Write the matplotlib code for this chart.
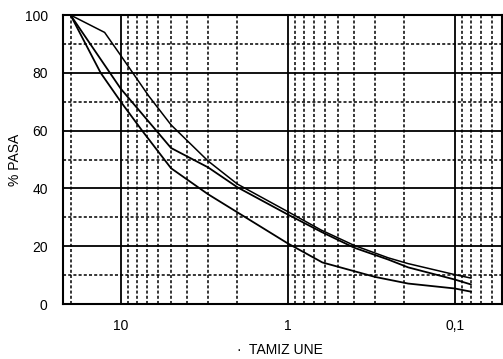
'''
curvas granulometricas
-----------------------------------------------------------
three grading curves, % passing vs UNE sieve size.
'''
# load packages -------------------------------------------
import matplotlib.pyplot as plt
from matplotlib.ticker import FixedLocator, NullFormatter

plt.rcParams['font.family'] = ['Liberation Sans', 'DejaVu Sans']

# data ----------------------------------------------------
# sieve sizes (mm) and % passing:
tamiz_a = [20, 12.5, 10, 6.8, 5, 3, 2, 1, 0.63, 0.4, 0.25, 0.19, 0.1, 0.08]
pasa_a = [100, 94, 86, 72, 62, 49.5, 41.5, 32, 25.6, 20.3, 16, 14, 10.2, 9]

tamiz_b = [20, 10, 5, 3, 2, 1, 0.63, 0.4, 0.25, 0.19, 0.1, 0.08]
pasa_b = [100, 74.5, 54, 47.3, 40.4, 31, 25, 19.5, 15.4, 12.7, 8.5, 6.8]

tamiz_c = [20, 13.2, 10, 7.45, 5, 3, 1, 0.62, 0.3, 0.19, 0.1, 0.08]
pasa_c = [100, 80, 70, 60, 47, 38, 21, 14.4, 9.4, 7.1, 5.4, 4.3]

x_ticks = [10, 1, 0.1]
x_labels = ['10', '1', '0,1']
y_ticks = [0, 20, 40, 60, 80, 100]

# plot data -----------------------------------------------
fig = plt.figure(figsize=(5.03, 3.59), dpi=100)
ax = fig.add_axes([0.1252, 0.153, 0.873, 0.805])

ax.set_xscale('log')
ax.set_xlim(22.2, 0.052)
ax.set_ylim(0, 100)

# grid: solid on decades / every 20 %, dashed in between
minor_x = [20] + list(range(2, 10)) + [v / 10 for v in range(2, 10)] + \
    [v / 100 for v in range(6, 10)]
for v in minor_x:
    ax.axvline(v, color='black', lw=1.1, ls=(0, (2.0, 1.4)), zorder=1)
for v in x_ticks:
    ax.axvline(v, color='black', lw=1.3, zorder=1)
for v in [10, 30, 50, 70, 90]:
    ax.axhline(v, color='black', lw=1.1, ls=(0, (2.0, 1.4)), zorder=1)
for v in [20, 40, 60, 80]:
    ax.axhline(v, color='black', lw=1.3, zorder=1)

# curves:
ax.plot(tamiz_a, pasa_a, color='black', lw=1.1, zorder=3)
ax.plot(tamiz_b, pasa_b, color='black', lw=1.3, zorder=3)
ax.plot(tamiz_c, pasa_c, color='black', lw=1.3, zorder=3)

# ticks and labels:
ax.xaxis.set_major_locator(FixedLocator(x_ticks))
ax.set_xticklabels(x_labels)
ax.xaxis.set_minor_formatter(NullFormatter())
ax.set_yticks(y_ticks)
ax.tick_params(which='both', length=0, labelsize=10)
ax.tick_params(axis='x', pad=11)
ax.tick_params(axis='y', pad=11)

for s in ax.spines.values():
    s.set_linewidth(1.5)

ax.set_xlabel('·  TAMIZ UNE', fontsize=10, va='center')
ax.xaxis.set_label_coords(0.494, -0.159)
ax.set_ylabel('% PASA', fontsize=10, va='center')
ax.yaxis.set_label_coords(-0.109, 0.5)

fig.savefig('out.png', dpi=100)
